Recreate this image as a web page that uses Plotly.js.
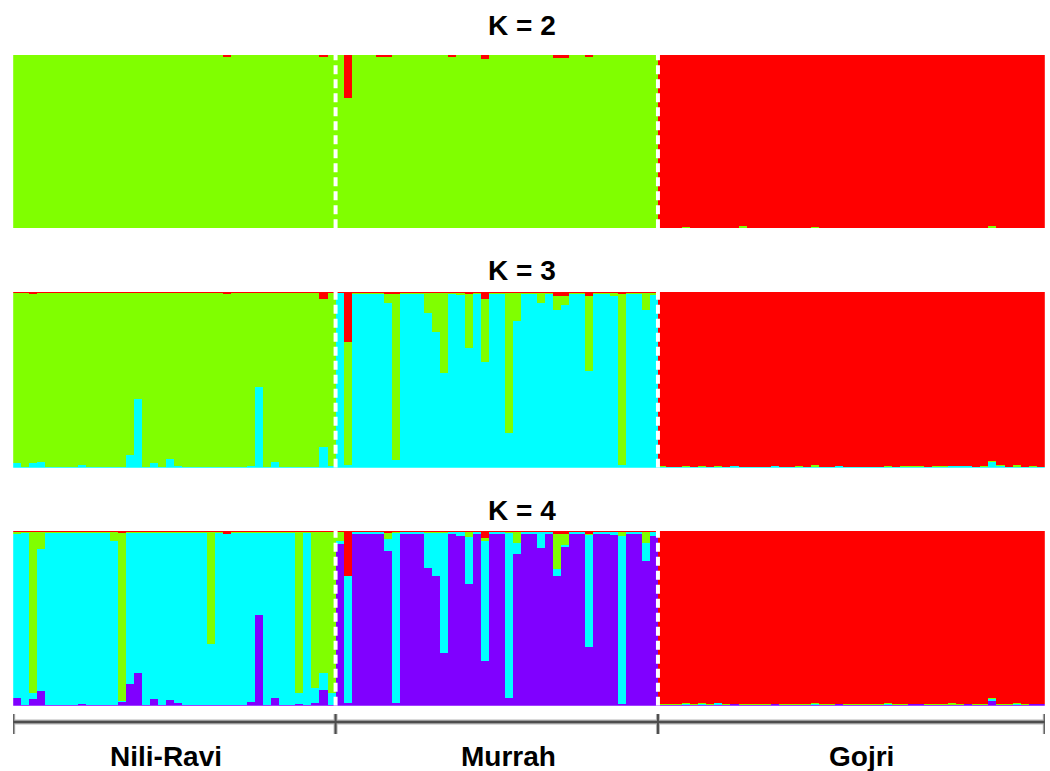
<!DOCTYPE html>
<html>
<head>
<meta charset="utf-8">
<script src="https://cdn.plot.ly/plotly-3.0.1.min.js"></script>
<style>html,body{margin:0;padding:0;background:#fff;}#chart{width:1050px;height:771px;}</style>
</head>
<body>
<div id="chart"></div>
<script>
// ---------- DATA ----------
const populations = ["Nili-Ravi", "Murrah", "Gojri"];
const popSizes = [40, 40, 48];
const panelTitles = ["K = 2", "K = 3", "K = 4"];

// K = 2  (bottom -> top: green, red)
const k2_green_NR = [1,1,1,1,1,1,1,1,1,1, 1,1,1,1,1,1,1,1,1,1, 1,1,1,1,1,1,0.987,1,1,1, 1,1,1,1,1,1,1,1,0.99,1];
const k2_red_NR   = [0,0,0,0,0,0,0,0,0,0, 0,0,0,0,0,0,0,0,0,0, 0,0,0,0,0,0,0.013,0,0,0, 0,0,0,0,0,0,0,0,0.01,0];
const k2_green_MU = [1,0.75,1,1,1,0.99,0.99,1,1,1, 1,1,1,1,0.99,1,1,1,0.975,1, 1,1,1,1,1,1,1,0.985,0.985,1, 1,0.99,1,1,1,1,1,1,1,1];
const k2_red_MU   = [0,0.25,0,0,0,0.01,0.01,0,0,0, 0,0,0,0,0.01,0,0,0,0.025,0, 0,0,0,0,0,0,0,0.015,0.015,0, 0,0.01,0,0,0,0,0,0,0,0];
const k2_green_GO = [0.002,0.002,0.002,0.01,0.002,0.002,0.002,0.002,0.002,0.002, 0.012,0.002,0.002,0.002,0.002,0.002,0.002,0.002,0.002,0.01, 0.002,0.002,0.002,0.002,0.002,0.002,0.002,0.002,0.002,0.002, 0.002,0.002,0.002,0.002,0.002,0.002,0.002,0.002,0.002,0.002, 0.002,0.015,0.002,0.002,0.002,0.002,0.002,0.002];
const k2_red_GO   = [0.998,0.998,0.998,0.99,0.998,0.998,0.998,0.998,0.998,0.998, 0.988,0.998,0.998,0.998,0.998,0.998,0.998,0.998,0.998,0.99, 0.998,0.998,0.998,0.998,0.998,0.998,0.998,0.998,0.998,0.998, 0.998,0.998,0.998,0.998,0.998,0.998,0.998,0.998,0.998,0.998, 0.998,0.985,0.998,0.998,0.998,0.998,0.998,0.998];

// K = 3  (bottom -> top: cyan, green, red)
const k3_cyan_NR  = [0.025,0.006,0.029,0.034,0.006,0.006,0.006,0.006,0.015,0.006, 0.006,0.006,0.006,0.006,0.07,0.39,0.006,0.029,0.006,0.048, 0.011,0.006,0.006,0.006,0.006,0.006,0.006,0.006,0.006,0.011, 0.457,0.006,0.034,0.006,0.006,0.006,0.006,0.006,0.115,0.01];
const k3_green_NR = [0.97,0.989,0.959,0.961,0.989,0.989,0.989,0.989,0.98,0.989, 0.989,0.989,0.989,0.989,0.925,0.605,0.989,0.966,0.989,0.947, 0.984,0.989,0.989,0.989,0.989,0.989,0.982,0.989,0.989,0.984, 0.538,0.989,0.961,0.989,0.989,0.989,0.989,0.989,0.843,0.985];
const k3_red_NR   = [0.005,0.005,0.012,0.005,0.005,0.005,0.005,0.005,0.005,0.005, 0.005,0.005,0.005,0.005,0.005,0.005,0.005,0.005,0.005,0.005, 0.005,0.005,0.005,0.005,0.005,0.005,0.012,0.005,0.005,0.005, 0.005,0.005,0.005,0.005,0.005,0.005,0.005,0.005,0.042,0.005];
const k3_cyan_MU  = [0.995,0.015,0.99,0.99,0.99,0.99,0.94,0.044,0.99,0.99, 0.99,0.88,0.775,0.54,0.99,0.985,0.68,0.99,0.602,0.99, 0.99,0.195,0.835,0.99,0.99,0.935,0.99,0.90,0.927,0.99, 0.99,0.55,0.99,0.99,0.98,0.015,0.99,0.99,0.895,0.985];
const k3_green_MU = [0,0.702,0.005,0.005,0.005,0.005,0.05,0.946,0.005,0.005, 0.005,0.115,0.22,0.455,0.005,0.01,0.31,0.005,0.36,0.005, 0.005,0.80,0.16,0.005,0.005,0.06,0.005,0.08,0.05,0.005, 0.005,0.43,0.005,0.005,0.015,0.975,0.005,0.005,0.10,0.01];
const k3_red_MU   = [0.005,0.283,0.005,0.005,0.005,0.005,0.01,0.01,0.005,0.005, 0.005,0.005,0.005,0.005,0.005,0.005,0.01,0.005,0.038,0.005, 0.005,0.005,0.005,0.005,0.005,0.005,0.005,0.02,0.023,0.005, 0.005,0.02,0.005,0.005,0.005,0.01,0.005,0.005,0.005,0.005];
const k3_cyan_GO  = [0.002,0.002,0.002,0.002,0.002,0.002,0.002,0.002,0.002,0.008, 0.002,0.002,0.002,0.002,0.008,0.002,0.002,0.002,0.002,0.002, 0.002,0.002,0.008,0.002,0.002,0.002,0.002,0.002,0.002,0.002, 0.002,0.002,0.002,0.002,0.002,0.002,0.008,0.008,0.008,0.002, 0.002,0.035,0.01,0.002,0.002,0.002,0.002,0.002];
const k3_green_GO = [0.006,0.003,0.003,0.008,0.003,0.008,0.003,0.01,0.003,0.003, 0.003,0.003,0.003,0.003,0.003,0.003,0.003,0.008,0.003,0.012, 0.003,0.003,0.003,0.003,0.003,0.003,0.003,0.003,0.008,0.003, 0.008,0.008,0.008,0.003,0.008,0.008,0.003,0.003,0.003,0.003, 0.01,0.003,0.003,0.003,0.012,0.003,0.01,0.003];
const k3_red_GO   = [0.992,0.995,0.995,0.99,0.995,0.99,0.995,0.988,0.995,0.989, 0.995,0.995,0.995,0.995,0.989,0.995,0.995,0.99,0.995,0.986, 0.995,0.995,0.989,0.995,0.995,0.995,0.995,0.995,0.99,0.995, 0.99,0.99,0.99,0.995,0.99,0.99,0.989,0.989,0.989,0.995, 0.988,0.962,0.987,0.995,0.986,0.995,0.988,0.995];

// K = 4  (bottom -> top: purple, cyan, green, red)
const k4_purple_NR = [0.042,0.006,0.04,0.087,0.006,0.006,0.006,0.006,0.012,0.006, 0.006,0.006,0.006,0.02,0.125,0.19,0.006,0.037,0.006,0.03, 0.015,0.006,0.006,0.006,0.006,0.006,0.006,0.006,0.006,0.023, 0.517,0.006,0.044,0.006,0.006,0.01,0.006,0.017,0.09,0.006];
const k4_cyan_NR   = [0.938,0.984,0.03,0.808,0.984,0.984,0.984,0.984,0.978,0.984, 0.984,0.984,0.939,0.005,0.865,0.80,0.984,0.953,0.984,0.96, 0.975,0.981,0.981,0.981,0.349,0.984,0.974,0.984,0.984,0.967, 0.473,0.984,0.946,0.984,0.984,0.06,0.984,0.083,0.096,0.065];
const k4_green_NR  = [0.015,0.005,0.925,0.10,0.005,0.005,0.005,0.005,0.005,0.005, 0.005,0.005,0.05,0.965,0.005,0.005,0.005,0.005,0.005,0.005, 0.005,0.008,0.008,0.008,0.64,0.005,0.005,0.005,0.005,0.005, 0.005,0.005,0.005,0.005,0.005,0.925,0.005,0.895,0.809,0.924];
const k4_red_NR    = [0.005,0.005,0.005,0.005,0.005,0.005,0.005,0.005,0.005,0.005, 0.005,0.005,0.005,0.01,0.005,0.005,0.005,0.005,0.005,0.005, 0.005,0.005,0.005,0.005,0.005,0.005,0.015,0.005,0.005,0.005, 0.005,0.005,0.005,0.005,0.005,0.005,0.005,0.005,0.005,0.005];
const k4_purple_MU = [0.925,0.013,0.982,0.982,0.982,0.982,0.888,0.017,0.982,0.982, 0.982,0.79,0.74,0.30,0.982,0.972,0.695,0.982,0.255,0.982, 0.982,0.045,0.87,0.982,0.982,0.902,0.982,0.745,0.91,0.982, 0.982,0.335,0.982,0.982,0.977,0.01,0.982,0.982,0.83,0.972];
const k4_cyan_MU   = [0.02,0.727,0.01,0.01,0.01,0.01,0.067,0.973,0.01,0.01, 0.01,0.20,0.25,0.69,0.01,0.02,0.27,0.01,0.69,0.01, 0.01,0.945,0.06,0.01,0.01,0.09,0.01,0.04,0.01,0.01, 0.01,0.64,0.01,0.01,0.015,0.96,0.01,0.01,0.10,0.02];
const k4_green_MU  = [0.05,0,0.003,0.003,0.003,0.003,0.035,0.005,0.003,0.003, 0.003,0.005,0.005,0.005,0.003,0.003,0.03,0.003,0.015,0.003, 0.003,0.005,0.065,0.003,0.003,0.003,0.003,0.20,0.065,0.003, 0.003,0.01,0.003,0.003,0.003,0.025,0.003,0.003,0.065,0.003];
const k4_red_MU    = [0.005,0.26,0.005,0.005,0.005,0.005,0.01,0.005,0.005,0.005, 0.005,0.005,0.005,0.005,0.005,0.005,0.005,0.005,0.04,0.005, 0.005,0.005,0.005,0.005,0.005,0.005,0.005,0.015,0.015,0.005, 0.005,0.015,0.005,0.005,0.005,0.005,0.005,0.005,0.005,0.005];
const k4_purple_GO = [0.003,0.003,0.003,0.003,0.003,0.003,0.003,0.005,0.003,0.008, 0.003,0.003,0.003,0.003,0.008,0.003,0.003,0.003,0.003,0.003, 0.003,0.003,0.008,0.003,0.003,0.003,0.003,0.003,0.003,0.003, 0.003,0.008,0.008,0.003,0.003,0.003,0.003,0.003,0.008,0.003, 0.003,0.025,0.003,0.003,0.003,0.003,0.008,0.008];
const k4_cyan_GO   = [0.002,0.002,0.002,0.006,0.002,0.008,0.002,0.008,0.002,0.002, 0.002,0.002,0.002,0.002,0.002,0.002,0.002,0.002,0.002,0.006, 0.002,0.002,0.002,0.002,0.002,0.002,0.002,0.002,0.008,0.002, 0.002,0.002,0.002,0.002,0.002,0.002,0.002,0.002,0.002,0.002, 0.002,0.015,0.002,0.002,0.005,0.002,0.002,0.002];
const k4_green_GO  = [0.002,0.002,0.002,0.006,0.002,0.002,0.002,0.002,0.002,0.002, 0.002,0.002,0.002,0.002,0.002,0.002,0.002,0.002,0.002,0.008, 0.002,0.002,0.002,0.002,0.002,0.002,0.002,0.002,0.002,0.002, 0.002,0.002,0.002,0.002,0.002,0.002,0.008,0.002,0.002,0.002, 0.002,0.002,0.002,0.002,0.01,0.002,0.002,0.002];
const k4_red_GO    = [0.993,0.993,0.993,0.985,0.993,0.987,0.993,0.985,0.993,0.988, 0.993,0.993,0.993,0.993,0.988,0.993,0.993,0.993,0.993,0.981, 0.993,0.993,0.988,0.993,0.993,0.993,0.993,0.993,0.988,0.993, 0.993,0.988,0.988,0.993,0.993,0.993,0.988,0.993,0.988,0.993, 0.993,0.958,0.993,0.993,0.983,0.993,0.988,0.988];

// ---------- BUILD ----------
const COL = {green:"#80ff00", red:"#ff0000", cyan:"#00ffff", purple:"#8000ff"};
const N = popSizes.reduce((a,b)=>a+b,0);
const xs = Array.from({length:N},(_,i)=>i);
const W = 1050, H = 771;
const px = v => v / W, py = v => 1 - v / H;

const panels = [
  {axis:"y",  comps:[["green",k2_green_NR,k2_green_MU,k2_green_GO],["red",k2_red_NR,k2_red_MU,k2_red_GO]]},
  {axis:"y2", comps:[["cyan",k3_cyan_NR,k3_cyan_MU,k3_cyan_GO],["green",k3_green_NR,k3_green_MU,k3_green_GO],["red",k3_red_NR,k3_red_MU,k3_red_GO]]},
  {axis:"y3", comps:[["purple",k4_purple_NR,k4_purple_MU,k4_purple_GO],["cyan",k4_cyan_NR,k4_cyan_MU,k4_cyan_GO],["green",k4_green_NR,k4_green_MU,k4_green_GO],["red",k4_red_NR,k4_red_MU,k4_red_GO]]}
];

const traces = [];
panels.forEach(p => {
  p.comps.forEach(c => {
    traces.push({
      type:"bar", x:xs, y:[].concat(c[1],c[2],c[3]), yaxis:p.axis, xaxis:"x",
      marker:{color:COL[c[0]], line:{width:0}}, width:1, hoverinfo:"skip", showlegend:false
    });
  });
});

// panel pixel extents (top, bottom)
const panelPx = [[55,228.3],[292,467.7],[531,705.7]];
const titleY = [25, 269.3, 509.3];

const bounds = [];
let acc = 0;
popSizes.forEach(s => { bounds.push(acc - 0.5); acc += s; });
bounds.push(acc - 0.5);

const shapes = [];
// dashed separators in each panel
["y","y2","y3"].forEach(ax => {
  [bounds[1], bounds[2]].forEach(b => {
    shapes.push({type:"line", xref:"x", yref:ax, x0:b, x1:b, y0:0, y1:1,
      line:{color:"#ffffff", width:4, dash:"9px,5px"}});
  });
});
// bottom ruler
const rulerY = 722;
shapes.push({type:"line", xref:"x", yref:"paper", x0:bounds[0], x1:bounds[3], y0:py(rulerY), y1:py(rulerY), line:{color:"#b5b5b5", width:5}});
bounds.forEach(b => shapes.push({type:"line", xref:"x", yref:"paper", x0:b, x1:b, y0:py(714), y1:py(734), line:{color:"#b5b5b5", width:4}}));
shapes.push({type:"line", xref:"x", yref:"paper", x0:bounds[0], x1:bounds[3], y0:py(rulerY), y1:py(rulerY), line:{color:"#4d4d4d", width:2.5}});
bounds.forEach(b => shapes.push({type:"line", xref:"x", yref:"paper", x0:b, x1:b, y0:py(714), y1:py(734), line:{color:"#4d4d4d", width:2}}));

const annotations = [];
panelTitles.forEach((t,i) => annotations.push({
  text:"<b>"+t+"</b>", xref:"paper", yref:"paper", x:px(522), y:py(titleY[i]+1), xanchor:"center", yanchor:"middle",
  showarrow:false, font:{family:"Liberation Sans, Arial, sans-serif", size:28, color:"#000"}
}));
const labelX = [166, 508, 861];
populations.forEach((p,i) => annotations.push({
  text:"<b>"+p+"</b>", xref:"paper", yref:"paper", x:px(labelX[i]), y:py(756), xanchor:"center", yanchor:"middle",
  showarrow:false, font:{family:"Liberation Sans, Arial, sans-serif", size:28, color:"#000"}
}));

const yax = (i) => ({domain:[py(panelPx[i][1]), py(panelPx[i][0])], range:[0,1], visible:false, fixedrange:true, anchor:"x"});

const layout = {
  width:W, height:H, margin:{l:0,r:0,t:0,b:0}, paper_bgcolor:"#fff", plot_bgcolor:"#fff",
  barmode:"stack", bargap:0, showlegend:false,
  xaxis:{domain:[px(13.2), px(1044.8)], range:[-0.5, N-0.5], visible:false, fixedrange:true},
  yaxis:yax(0), yaxis2:yax(1), yaxis3:yax(2),
  shapes:shapes, annotations:annotations
};

Plotly.newPlot("chart", traces, layout, {displayModeBar:false, staticPlot:true});
</script>
</body>
</html>
